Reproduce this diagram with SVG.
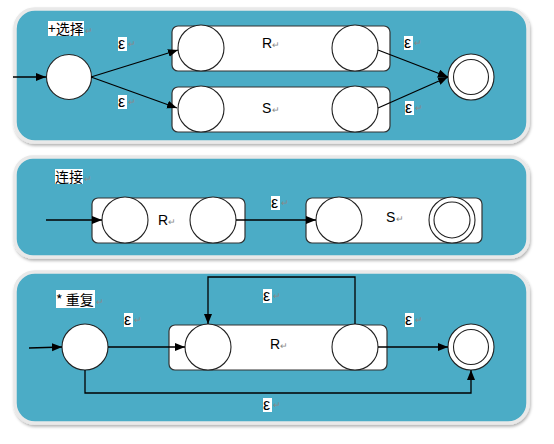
<svg xmlns="http://www.w3.org/2000/svg" width="554" height="444" viewBox="0 0 554 444">
<defs>
<marker id="ah" markerUnits="userSpaceOnUse" markerWidth="11" markerHeight="9" refX="10" refY="4" orient="auto">
<path d="M0,0 L10,4 L0,8 z" fill="#000"/>
</marker>
<filter id="sh" x="-5%" y="-5%" width="110%" height="115%">
<feDropShadow dx="1" dy="2" stdDeviation="1.5" flood-color="#000" flood-opacity="0.3"/>
</filter>
</defs>
<style>
.panel{fill:#4BACC6;stroke:#e9e9e9;stroke-width:3.5;filter:url(#sh)}
.box{fill:#fff;stroke:#333;stroke-width:1.2}
.st{fill:#fff;stroke:#222;stroke-width:1.1}
.edge{fill:none;stroke:#000;stroke-width:1.3;marker-end:url(#ah)}
.lbl{font-family:"Liberation Sans",Arial,sans-serif;font-size:14px;fill:#000}
.eps{font-family:"Liberation Sans",Arial,sans-serif;font-size:16px;fill:#000}
.cjk{font-family:"Noto Sans CJK SC","Liberation Sans",sans-serif;font-size:14px;fill:#000}
.hl{fill:#fff}
.pm{font-family:"Liberation Sans",sans-serif;font-size:9px;fill:#888}
</style>
<rect width="554" height="444" fill="#fff"/>

<!-- Panel 1: selection -->
<g id="panel1">
<rect class="panel" x="15" y="9" width="513" height="133" rx="20"/>
<rect class="hl" x="48" y="21" width="36" height="15"/>
<text class="cjk" x="48" y="34">+选择</text><text class="pm" x="85" y="34">↵</text>
</g>
<g id="p1-start"><circle class="st" cx="69" cy="77" r="22.5"/></g>
<g id="p1-R">
<rect class="box" x="172" y="26" width="218" height="45" rx="6"/>
<circle class="st" cx="201" cy="48" r="23"/>
<circle class="st" cx="355" cy="48" r="23"/>
<text class="lbl" x="262" y="48">R</text><text class="pm" x="272" y="48">↵</text>
</g>
<g id="p1-S">
<rect class="box" x="172" y="87" width="218" height="45" rx="6"/>
<circle class="st" cx="201" cy="109" r="23"/>
<circle class="st" cx="355" cy="109" r="23"/>
<text class="lbl" x="262" y="113">S</text><text class="pm" x="272" y="113">↵</text>
</g>
<g id="p1-final">
<circle class="st" cx="471" cy="77" r="23"/>
<circle class="st" cx="471" cy="77" r="17.5"/>
</g>
<g id="p1-connectors">
<line class="edge" x1="13" y1="77" x2="46" y2="77"/>
<line class="edge" x1="91" y1="77" x2="178" y2="50"/>
<line class="edge" x1="91" y1="77" x2="177" y2="108"/>
<line class="edge" x1="378" y1="50" x2="448" y2="77"/>
<line class="edge" x1="378" y1="108" x2="448" y2="77"/>
<rect class="hl" x="118" y="37" width="9" height="14"/><text class="eps" x="118" y="49">ε</text><text class="pm" x="128" y="47">↵</text>
<rect class="hl" x="118" y="95" width="9" height="14"/><text class="eps" x="118" y="107">ε</text><text class="pm" x="128" y="105">↵</text>
<rect class="hl" x="404" y="36" width="9" height="14"/><text class="eps" x="404" y="48">ε</text><text class="pm" x="414" y="46">↵</text>
<rect class="hl" x="405" y="101" width="9" height="14"/><text class="eps" x="405" y="113">ε</text><text class="pm" x="415" y="111">↵</text>
</g>

<!-- Panel 2: concatenation -->
<g id="panel2">
<rect class="panel" x="15" y="157" width="513" height="100" rx="18"/>
<rect class="hl" x="55" y="169" width="28" height="15"/>
<text class="cjk" x="55" y="182">连接</text><text class="pm" x="84" y="182">↵</text>
</g>
<g id="p2-R">
<rect class="box" x="92" y="198" width="153" height="45" rx="6"/>
<circle class="st" cx="125" cy="220" r="23"/>
<circle class="st" cx="213" cy="220" r="23"/>
<text class="lbl" x="158" y="225">R</text><text class="pm" x="168" y="225">↵</text>
</g>
<g id="p2-S">
<rect class="box" x="306" y="198" width="176" height="45" rx="6"/>
<circle class="st" cx="339" cy="220" r="23"/>
<circle class="st" cx="452" cy="220" r="23"/>
<circle class="st" cx="452" cy="220" r="18"/>
<text class="lbl" x="386" y="222">S</text><text class="pm" x="396" y="222">↵</text>
</g>
<g id="p2-connectors">
<line class="edge" x1="46" y1="220" x2="102" y2="220"/>
<line class="edge" x1="236" y1="220" x2="316" y2="220"/>
<rect class="hl" x="271" y="196" width="9" height="14"/><text class="eps" x="271" y="208">ε</text><text class="pm" x="281" y="206">↵</text>
</g>

<!-- Panel 3: repetition -->
<g id="panel3">
<rect class="panel" x="15" y="272" width="513" height="151" rx="20"/>
<rect class="hl" x="56" y="290" width="39" height="18"/>
<text class="cjk" x="56" y="305">* 重复</text><text class="pm" x="96" y="305">↵</text>
</g>
<g id="p3-start"><circle class="st" cx="85" cy="347" r="23"/></g>
<g id="p3-R">
<rect class="box" x="169" y="325" width="218" height="45" rx="6"/>
<circle class="st" cx="208" cy="347" r="23"/>
<circle class="st" cx="355" cy="347" r="23"/>
<text class="lbl" x="270" y="349">R</text><text class="pm" x="280" y="349">↵</text>
</g>
<g id="p3-final">
<circle class="st" cx="471" cy="347" r="23"/>
<circle class="st" cx="471" cy="347" r="17.5"/>
</g>
<g id="p3-connectors">
<line class="edge" x1="29" y1="348" x2="62" y2="347"/>
<line class="edge" x1="108" y1="347" x2="185" y2="347"/>
<polyline class="edge" points="355,324 355,277 208,277 208,324"/>
<line class="edge" x1="378" y1="347" x2="448" y2="347"/>
<polyline class="edge" points="85,370 85,393 471,393 471,370"/>
<rect class="hl" x="124" y="313" width="9" height="14"/><text class="eps" x="124" y="325">ε</text><text class="pm" x="134" y="323">↵</text>
<rect class="hl" x="263" y="289" width="9" height="14"/><text class="eps" x="263" y="301">ε</text><text class="pm" x="273" y="299">↵</text>
<rect class="hl" x="405" y="313" width="9" height="14"/><text class="eps" x="405" y="325">ε</text><text class="pm" x="415" y="323">↵</text>
<rect class="hl" x="263" y="398" width="9" height="14"/><text class="eps" x="263" y="410">ε</text><text class="pm" x="273" y="408">↵</text>
</g>
</svg>
